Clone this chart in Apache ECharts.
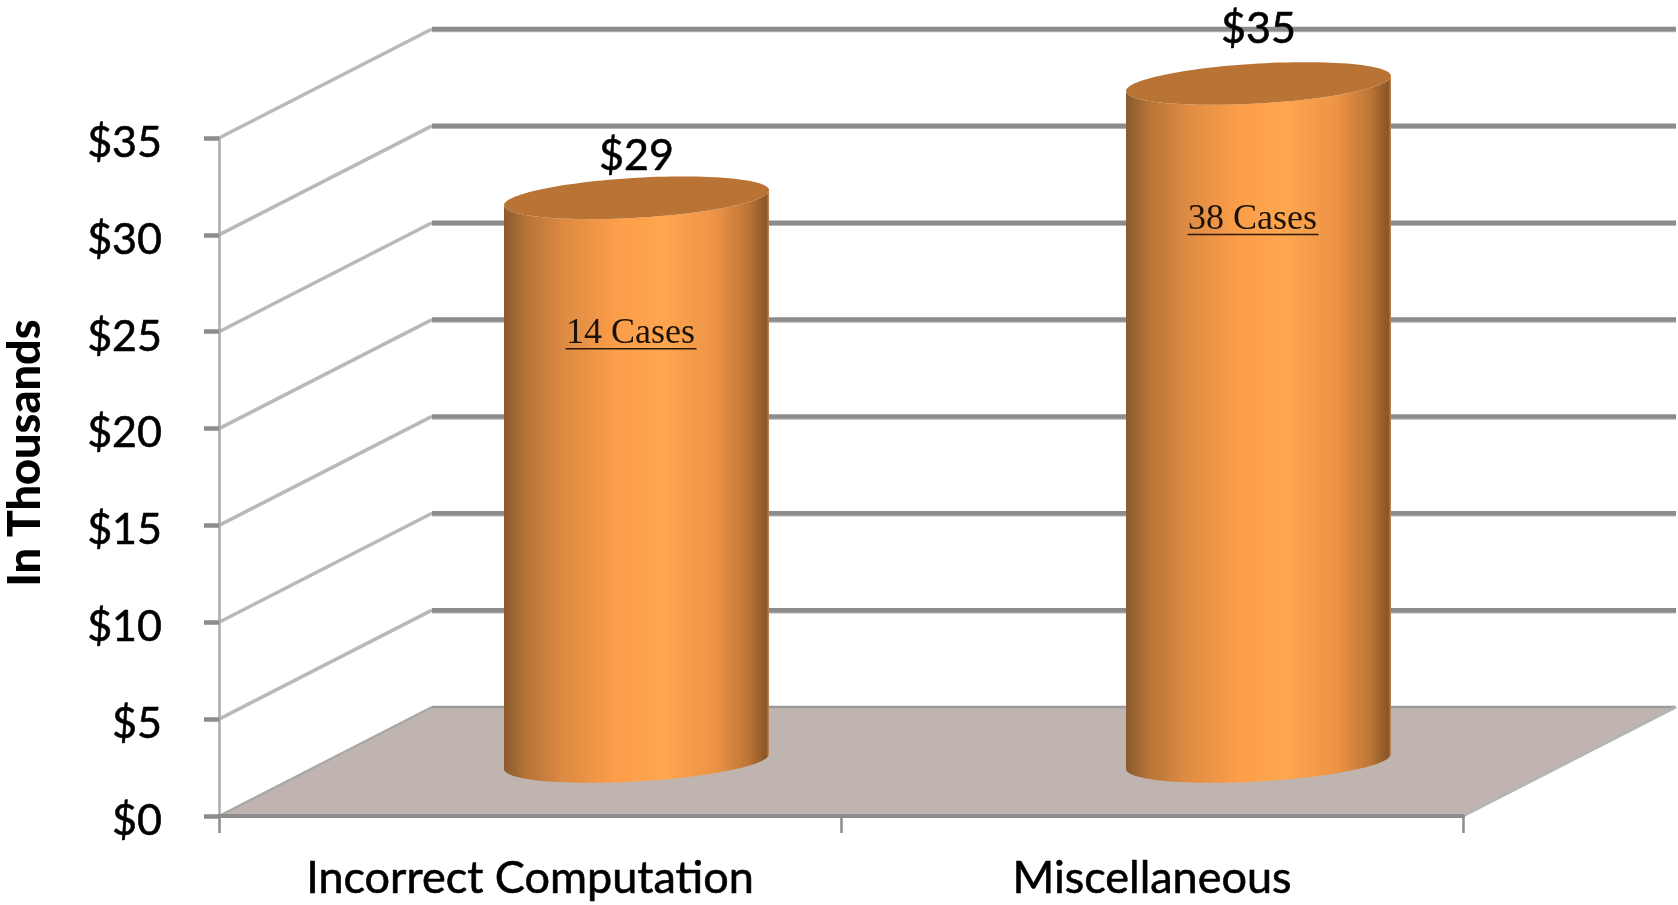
<!DOCTYPE html>
<html>
<head>
<meta charset="utf-8">
<style>html,body{margin:0;padding:0;background:#fff}#c{width:1678px;height:905px}</style>
<script src="https://cdn.jsdelivr.net/npm/echarts@6/dist/echarts.min.js"></script>
</head>
<body>
<div id="c"></div>
<script>
const categories = ['Incorrect Computation', 'Miscellaneous'];
const spending = [29.1, 35];
const cases = [14, 38];
const yTicks = [0, 5, 10, 15, 20, 25, 30, 35];
const yAxisTitle = 'In Thousands';

const DX = 213, DY = -109;
const RX = 132.5, RY = 20, TILT = 7.5;
const LABEL_FONT = 'Lato, "Open Sans", sans-serif';

function ellipsePoint(cx, cy, t) {
  return [cx + RX * Math.cos(t), cy + RY * Math.sin(t) - TILT * Math.cos(t)];
}
function arc(cx, cy, from, to, n) {
  const out = [];
  for (let i = 0; i <= n; i++) out.push(ellipsePoint(cx, cy, from + (to - from) * i / n));
  return out;
}

function renderWall(params, api) {
  const v = api.value(0);
  const sys = params.coordSys;
  const left = sys.x, right = sys.x + sys.width;
  const y = api.coord([0, v])[1];
  const kids = [];
  const ln = (x1, y1, x2, y2, stroke, w) => ({
    type: 'line', shape: {x1, y1, x2, y2}, style: {stroke, lineWidth: w, lineCap: 'butt'}
  });
  if (v === yTicks[0]) {
    kids.push({type: 'polygon', shape: {points: [[left, y], [right, y], [right + DX, y + DY], [left + DX, y + DY]]},
      style: {fill: '#BFB4B0'}});
    kids.push(ln(left + DX, y + DY, right + DX, y + DY, '#9C9A98', 2.5));
    kids.push(ln(right, y, right + DX, y + DY, '#B4B4B4', 3));
    kids.push(ln(left, y, left + DX, y + DY, '#A9A6A4', 2));
  } else {
    kids.push(ln(left, y, left + DX, y + DY, '#B9B9B9', 3.5));
    kids.push(ln(left + DX, y + DY + 2.5, right + DX, y + DY + 2.5, '#B6B6B6', 1.5));
    kids.push(ln(left + DX, y + DY, right + DX, y + DY, '#8C8C8C', 4.5));
  }
  return {type: 'group', children: kids};
}

function renderCylinder(params, api) {
  const top = api.coord([api.value(0), api.value(1)]);
  const base = api.coord([api.value(0), 0]);
  const cx = top[0] + DX / 2;
  const topY = top[1] + DY / 2;
  const baseY = base[1] + DY / 2;
  const body = [ellipsePoint(cx, topY, 0)]
    .concat(arc(cx, baseY, 0, Math.PI, 60))
    .concat(arc(cx, topY, Math.PI, 0, 60));
  const caseText = api.value(2) + ' Cases';
  const caseY = topY + 137;
  return {type: 'group', children: [
    {type: 'polygon', shape: {points: body}, style: {
      fill: new echarts.graphic.LinearGradient(0, 0, 1, 0, [
        {offset: 0, color: '#8A5A2E'},
        {offset: 0.08, color: '#B47337'},
        {offset: 0.22, color: '#DC8A42'},
        {offset: 0.42, color: '#FB9D4A'},
        {offset: 0.6, color: '#FFA64F'},
        {offset: 0.8, color: '#EC9346'},
        {offset: 0.92, color: '#BC7636'},
        {offset: 0.99, color: '#8A5527'},
        {offset: 1, color: '#C08A5A'}
      ])
    }},
    {type: 'polygon', shape: {points: arc(cx, topY, 0, Math.PI * 2, 120)}, style: {fill: '#B97334'}},
    {type: 'text', x: cx, y: topY - (api.value(1) > 30 ? 54 : 42), style: {
      text: '$' + Math.round(api.value(1)), fill: '#000', font: '43px ' + LABEL_FONT,
      textAlign: 'center', textVerticalAlign: 'middle', stroke: '#000', lineWidth: 0.6
    }},
    {type: 'text', x: cx - 6, y: caseY - 1, style: {
      text: caseText, fill: '#1A1208', font: '36px "Liberation Serif", serif',
      textAlign: 'center', textVerticalAlign: 'middle'
    }},
    {type: 'line', shape: {x1: cx - 71, y1: caseY + 14, x2: cx + 60, y2: caseY + 14},
      style: {stroke: '#2A1A0A', lineWidth: 1.5}}
  ]};
}

const chart = echarts.init(document.getElementById('c'));
chart.setOption({
  animation: false,
  backgroundColor: '#fff',
  grid: {left: 219, right: 215, top: 138, bottom: 89},
  xAxis: {
    type: 'category', data: categories, z: 3,
    axisLine: {lineStyle: {color: '#8C8C8C', width: 4}},
    axisTick: {show: true, alignWithLabel: false, length: 17, lineStyle: {color: '#8C8C8C', width: 2.5}},
    axisLabel: {color: '#000', fontFamily: LABEL_FONT, fontSize: 45, margin: 40,
      textBorderColor: '#000', textBorderWidth: 0.6},
    splitLine: {show: false}
  },
  yAxis: {
    type: 'value', min: 0, max: 35, interval: 5, z: 3,
    axisLine: {show: true, lineStyle: {color: '#ABABAB', width: 2.5}},
    axisTick: {show: true, length: 15, lineStyle: {color: '#8C8C8C', width: 4.5}},
    axisLabel: {color: '#000', fontFamily: LABEL_FONT, fontSize: 43, margin: 57,
      verticalAlign: 'top', lineHeight: 10,
      textBorderColor: '#000', textBorderWidth: 0.6, formatter: v => '$' + v},
    splitLine: {show: false}
  },
  graphic: [{
    type: 'text', x: 25, y: 453, rotation: Math.PI / 2,
    style: {text: yAxisTitle, fill: '#000', font: '900 45px ' + LABEL_FONT,
      textAlign: 'center', textVerticalAlign: 'middle'}
  }],
  series: [
    {type: 'custom', z: 1, coordinateSystem: 'cartesian2d', renderItem: renderWall,
      encode: {x: 1, y: 0}, silent: true,
      data: yTicks.map(v => [v, 0])},
    {type: 'custom', z: 4, coordinateSystem: 'cartesian2d', renderItem: renderCylinder,
      encode: {x: 0, y: 1}, silent: true,
      data: categories.map((c, i) => [i, spending[i], cases[i]])}
  ]
});
</script>
</body>
</html>
